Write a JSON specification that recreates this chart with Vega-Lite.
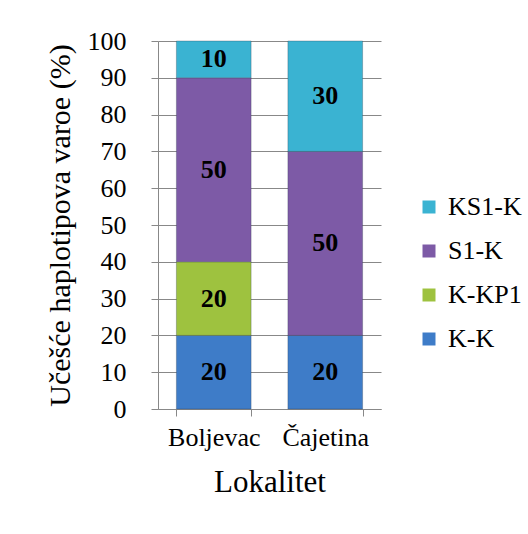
{
  "$schema": "https://vega.github.io/schema/vega-lite/v6.json",
  "width": 223,
  "height": 368,
  "padding": {"left": 45, "top": 28, "right": 5, "bottom": 5},
  "background": "white",
  "data": {
    "values": [
      {"lok": "Boljevac", "hap": "K-K", "idx": 1, "val": 20},
      {"lok": "Boljevac", "hap": "K-KP1", "idx": 2, "val": 20},
      {"lok": "Boljevac", "hap": "S1-K", "idx": 3, "val": 50},
      {"lok": "Boljevac", "hap": "KS1-K", "idx": 4, "val": 10},
      {"lok": "Čajetina", "hap": "K-K", "idx": 1, "val": 20},
      {"lok": "Čajetina", "hap": "S1-K", "idx": 3, "val": 50},
      {"lok": "Čajetina", "hap": "KS1-K", "idx": 4, "val": 30}
    ]
  },
  "transform": [
    {"stack": "val", "groupby": ["lok"], "sort": [{"field": "idx", "order": "ascending"}], "as": ["v0", "v1"]},
    {"calculate": "(datum.v0 + datum.v1) / 2", "as": "mid"}
  ],
  "encoding": {
    "x": {
      "field": "lok",
      "type": "nominal",
      "sort": ["Boljevac", "Čajetina"],
      "scale": {"paddingInner": 0.33, "paddingOuter": 0.165},
      "axis": {
        "title": "Lokalitet",
        "labelAngle": 0,
        "labelFontSize": 26,
        "labelColor": "black",
        "labelPadding": 8,
        "tickBand": "extent",
        "ticks": true,
        "tickSize": 7,
        "tickColor": "#888888",
        "titleFontSize": 31,
        "titleFontWeight": "normal",
        "titleColor": "black",
        "titlePadding": 17,
        "domainColor": "#888888",
        "grid": false
      }
    }
  },
  "layer": [
    {
      "mark": {"type": "bar", "stroke": "#2a3a4a", "strokeWidth": 0.6, "strokeOpacity": 0.5},
      "encoding": {
        "y": {
          "field": "v0",
          "type": "quantitative",
          "scale": {"domain": [0, 100]},
          "axis": {
            "title": "Učešće haplotipova varoe (%)",
            "values": [0, 10, 20, 30, 40, 50, 60, 70, 80, 90, 100],
            "labelOverlap": false,
            "labelFontSize": 26,
            "labelColor": "black",
            "labelPadding": 25,
            "tickSize": 7,
            "tickColor": "#888888",
            "domainColor": "#888888",
            "gridColor": "#888888",
            "gridWidth": 1,
            "titleFontSize": 30,
            "titleFontWeight": "normal",
            "titleColor": "black",
            "titlePadding": 12
          }
        },
        "y2": {"field": "v1"},
        "color": {
          "field": "hap",
          "type": "nominal",
          "scale": {
            "domain": ["KS1-K", "S1-K", "K-KP1", "K-K"],
            "range": ["#3AB3D2", "#7D5AA6", "#9EC23F", "#3E7CC8"]
          },
          "legend": {
            "title": null,
            "orient": "none",
            "legendX": 258,
            "legendY": 153,
            "labelFontSize": 26,
            "labelColor": "black",
            "symbolType": "square",
            "symbolSize": 169,
            "symbolStrokeWidth": 0,
            "rowPadding": 18,
            "labelOffset": 6
          }
        }
      }
    },
    {
      "mark": {"type": "text", "fontSize": 26, "fontWeight": "bold", "color": "black", "baseline": "middle"},
      "encoding": {
        "y": {
          "field": "mid",
          "type": "quantitative",
          "axis": {
            "title": "Učešće haplotipova varoe (%)",
            "values": [0, 10, 20, 30, 40, 50, 60, 70, 80, 90, 100],
            "labelOverlap": false
          }
        },
        "text": {"field": "val", "type": "quantitative"}
      }
    }
  ],
  "config": {
    "font": "Liberation Serif, DejaVu Serif, serif",
    "view": {"stroke": null},
    "axis": {"labelOverlap": false}
  }
}
